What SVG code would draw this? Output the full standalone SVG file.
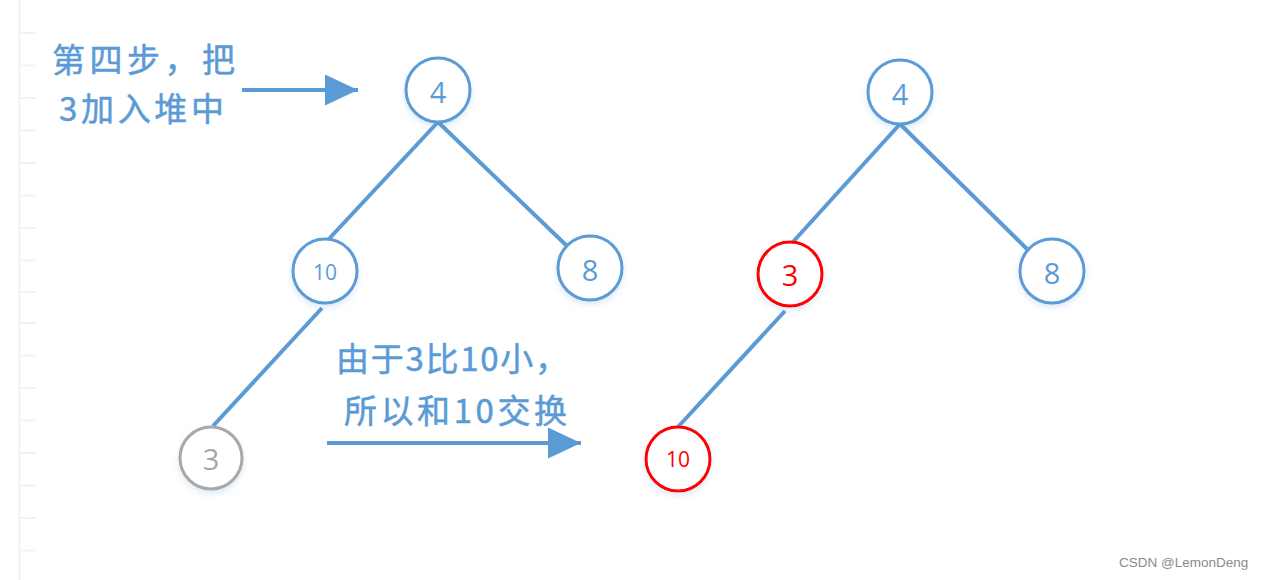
<svg xmlns="http://www.w3.org/2000/svg" width="1267" height="580" viewBox="0 0 1267 580">
  <defs>
    <filter id="glow" x="-40%" y="-40%" width="180%" height="180%">
      <feDropShadow dx="0" dy="3" stdDeviation="3" flood-color="#5b9bd5" flood-opacity="0.22"/>
    </filter>
    <marker id="head" markerUnits="userSpaceOnUse" markerWidth="33" markerHeight="31" refX="33" refY="15.5" orient="auto">
      <path d="M0,0 L33,15.5 L0,31 Z" fill="#5b9bd5"/>
    </marker>
  </defs>
  <style>
    .node circle { fill: #ffffff; stroke: #5b9bd5; stroke-width: 3; filter: url(#glow); }
    .node text { fill: #5b9bd5; font-family: "Open Sans", "Noto Sans", "Liberation Sans", sans-serif; text-anchor: middle; dominant-baseline: central; }
    .node.red circle { stroke: #ff0000; }
    .node.red text { fill: #ff0000; }
    .node.gray circle { stroke: #a8a8a8; }
    .node.gray text { fill: #a6a6a6; }
    .big { font-size: 29px; }
    .small { font-size: 21px; }
    .edge { stroke: #5b9bd5; stroke-width: 4; fill: none; }
    .arrow { stroke: #5b9bd5; stroke-width: 4; fill: none; marker-end: url(#head); }
    .label { fill: #5b9bd5; stroke: #5b9bd5; stroke-width: 0.5; font-family: "Noto Sans CJK SC", "Open Sans", sans-serif; font-size: 33px; dominant-baseline: central; }
    .ruler { stroke: #f2f2f2; stroke-width: 2; }
  </style>
  <rect width="1267" height="580" fill="#ffffff"/>

  <g id="ruler" class="ruler">
    <line x1="19.5" y1="0" x2="19.5" y2="580"/>
    <line x1="20" y1="33" x2="36" y2="33"/>
    <line x1="20" y1="65.5" x2="36" y2="65.5"/>
    <line x1="20" y1="98" x2="36" y2="98"/>
    <line x1="20" y1="130.5" x2="36" y2="130.5"/>
    <line x1="20" y1="163" x2="36" y2="163"/>
    <line x1="20" y1="195.5" x2="36" y2="195.5"/>
    <line x1="20" y1="228" x2="36" y2="228"/>
    <line x1="20" y1="260.5" x2="36" y2="260.5"/>
    <line x1="20" y1="292" x2="36" y2="292"/>
    <line x1="20" y1="323" x2="36" y2="323"/>
    <line x1="20" y1="355.5" x2="36" y2="355.5"/>
    <line x1="20" y1="388" x2="36" y2="388"/>
    <line x1="20" y1="420.5" x2="36" y2="420.5"/>
    <line x1="20" y1="453" x2="36" y2="453"/>
    <line x1="20" y1="485.5" x2="36" y2="485.5"/>
    <line x1="20" y1="518" x2="36" y2="518"/>
    <line x1="20" y1="550.5" x2="36" y2="550.5"/>
  </g>

  <g id="connectors">
    <line class="edge" x1="438" y1="122" x2="327" y2="241"/>
    <line class="edge" x1="438" y1="122" x2="567" y2="246"/>
    <line class="edge" x1="322" y1="308" x2="213" y2="426"/>
    <line class="edge" x1="900" y1="124" x2="792" y2="243"/>
    <line class="edge" x1="900" y1="124" x2="1027" y2="249"/>
    <line class="edge" x1="785" y1="311" x2="677" y2="428"/>
    <line class="arrow" x1="242" y1="90" x2="358" y2="90"/>
    <line class="arrow" x1="327" y1="443" x2="581" y2="443"/>
  </g>

  <g id="label-step">
    <text class="label" x="52" y="58" textLength="183" lengthAdjust="spacing">第四步，把</text>
    <text class="label" x="59" y="107" textLength="165" lengthAdjust="spacing">3加入堆中</text>
  </g>
  <g id="label-swap">
    <text class="label" x="336" y="357" textLength="232" lengthAdjust="spacing">由于3比10小，</text>
    <text class="label" x="344" y="409" textLength="223" lengthAdjust="spacing">所以和10交换</text>
  </g>

  <g id="left-4" class="node"><circle cx="438" cy="90" r="32"/><text class="big" x="438" y="91">4</text></g>
  <g id="left-10" class="node"><circle cx="325" cy="271" r="32"/><text class="small" x="325" y="272">10</text></g>
  <g id="left-8" class="node"><circle cx="590" cy="268" r="32"/><text class="big" x="590" y="269">8</text></g>
  <g id="left-3" class="node gray"><circle cx="211" cy="458" r="31"/><text class="big" x="211" y="458">3</text></g>

  <g id="right-4" class="node"><circle cx="900" cy="92" r="32"/><text class="big" x="900" y="93">4</text></g>
  <g id="right-3" class="node red"><circle cx="790" cy="274" r="32"/><text class="big" x="790" y="274">3</text></g>
  <g id="right-8" class="node"><circle cx="1052" cy="271" r="32"/><text class="big" x="1052" y="272">8</text></g>
  <g id="right-10" class="node red"><circle cx="678" cy="459" r="32"/><text class="small" x="678" y="459">10</text></g>

  <text id="watermark" x="1119" y="567" fill="#8a8a8a" font-family="Liberation Sans, Arial, sans-serif" font-size="13.5">CSDN @LemonDeng</text>
</svg>
